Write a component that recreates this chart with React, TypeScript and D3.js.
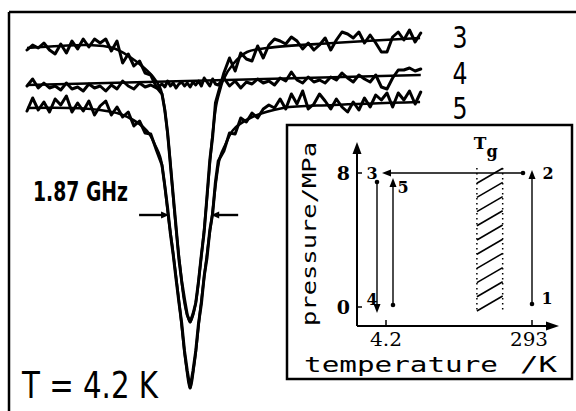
import React from "react";
import * as d3 from "d3";

// Frequency sampling grid (GHz detuning from line centre)
const freqGrid: number[] = [
  ...d3.range(-7.25, -1.25, 0.25),
  ...d3.range(-1.25, 1.25, 0.125),
  ...d3.range(1.25, 10.3, 0.25),
];

const trace3: number[] = [
  350, 355, 352, 357, 350, 346, 356, 347, 359, 351, 361, 353, 361, 357, 361, 349, 359, 337, 346, 334, 339, 327, 325, 313,
  306, 290, 267, 235, 204, 173, 141, 119, 101, 85, 78, 86, 97, 119, 145, 168, 204, 240, 263, 297,
  307, 327, 342, 329, 347, 341, 339, 354, 342, 355, 361, 359, 356, 363, 359, 351, 357, 350, 355, 362, 350, 360, 368, 366, 362, 368, 357, 365, 357, 348, 348, 363, 368, 360, 370, 358, 367,
];
const trace4: number[] = [
  314, 321, 312, 317, 312, 314, 310, 317, 311, 313, 309, 316, 312, 314, 309, 315, 311, 319, 314, 311, 317, 313, 315, 312,
  316, 313, 319, 314, 317, 312, 316, 318, 314, 317, 313, 318, 315, 319, 314, 322, 318, 314, 321, 316,
  315, 322, 314, 319, 312, 318, 316, 321, 317, 319, 315, 322, 319, 328, 320, 317, 323, 318, 320, 317, 323, 320, 327, 322, 318, 325, 321, 318, 325, 313, 311, 322, 330, 330, 332, 329, 331,
];
const trace5: number[] = [
  289, 302, 290, 298, 288, 301, 295, 304, 288, 297, 289, 299, 285, 294, 299, 285, 293, 283, 288, 274, 279, 267, 266, 250,
  235, 214, 192, 166, 145, 121, 98, 77, 49, 29, 12, 29, 49, 77, 96, 124, 142, 170, 186, 218,
  239, 249, 267, 266, 282, 278, 287, 282, 291, 295, 292, 301, 291, 306, 296, 309, 291, 296, 306, 299, 291, 301, 293, 288, 298, 290, 302, 293, 305, 300, 307, 293, 307, 300, 309, 296, 308,
];

// Fitted line shapes (frequency, value)
const fit3Freq = [-7.25, -5.78, -4.58, -3.42, -2.67, -2.09, -1.64, -1.33, -1.16, -1.02, -0.89, -0.76, -0.62, -0.44, -0.27, -0.13, 0, 0.13, 0.27, 0.44, 0.62, 0.76, 0.89, 1.02, 1.16, 1.33, 1.47, 1.91, 2.53, 3.42, 6.36, 10.22];
const fit3Val = [352, 354, 355, 352, 343, 333, 323, 312, 295, 270, 240, 205, 170, 132, 100, 85, 78, 85, 100, 132, 170, 205, 240, 270, 295, 310, 320, 336, 348, 352, 357, 362];
const fit4Freq = [-7.25, 10.25];
const fit4Val = [315, 325];
const fit5Freq = [-7.24, -5.33, -4, -3.11, -2.53, -2.09, -1.78, -1.56, -1.33, -1.16, -0.98, -0.8, -0.62, -0.44, -0.31, -0.18, 0, 0.18, 0.31, 0.44, 0.62, 0.8, 0.98, 1.16, 1.33, 1.56, 1.91, 2.67, 4.13, 6.36, 10.22];
const fit5Val = [292, 292, 290, 286, 280, 273, 265, 255, 243, 220, 185, 155, 122, 88, 60, 35, 12, 35, 60, 88, 122, 155, 185, 220, 243, 255, 270, 282, 292, 295, 298];

const traceLabels = ["3", "4", "5"];
const fwhmGHz = 1.87;
const fwhmLabel = "1.87 GHz";
const tempLabel = "T = 4.2 K";

// Inset: pressure / temperature cycle
const pressureTicks = [0, 8];
const tempTicks = [4.2, 293];
const tempTickLabels = ["4.2", "293"];
const tgRange = [184, 235];
const cycleT = [293, 293, 4.2, 4.2, 4.2];
const cycleP = [0, 8, 8, 0, 8];
const cycleLabels = ["1", "2", "3", "4", "5"];

const COND = "'DejaVu Sans Condensed', 'DejaVu Sans', sans-serif";
const SERIF = "'DejaVu Serif', serif";
const MONO = "'DejaVu Sans Mono', 'Liberation Mono', monospace";

function tri(tx: number, ty: number, dir: "l" | "r" | "u" | "d", len: number, hw: number) {
  let pts: [number, number][];
  if (dir === "r") pts = [[tx, ty], [tx - len, ty - hw], [tx - len, ty + hw]];
  else if (dir === "l") pts = [[tx, ty], [tx + len, ty - hw], [tx + len, ty + hw]];
  else if (dir === "u") pts = [[tx, ty], [tx - hw, ty + len], [tx + hw, ty + len]];
  else pts = [[tx, ty], [tx - hw, ty - len], [tx + hw, ty - len]];
  return pts.map((p) => p.join(",")).join(" ");
}

export default function App() {
  const W = 576, H = 411;
  const x = d3.scaleLinear().domain([-7.25, 10.25]).range([27, 420.75]);
  const y = d3.scaleLinear().domain([0, 370]).range([400, 30]);

  const traceLine = d3.line<number>().x((_, i) => x(freqGrid[i])).y((d) => y(d));
  const fitLine = d3
    .line<[number, number]>()
    .x((d) => x(d[0]))
    .y((d) => y(d[1]))
    .curve(d3.curveCatmullRom.alpha(0.5));

  const fits = [
    d3.zip(fit3Freq, fit3Val) as [number, number][],
    d3.zip(fit4Freq, fit4Val) as [number, number][],
    d3.zip(fit5Freq, fit5Val) as [number, number][],
  ];
  const traces = [trace3, trace4, trace5];
  const labelY = [48, 84, 119];

  // inset scales
  const xT = d3.scaleLinear().domain([4.2, 293]).range([386, 532]);
  const yP = d3.scaleLinear().domain([0, 8]).range([307, 173]);
  const ax0 = xT(4.2) - 29;
  const ay0 = yP(0) + 19;

  const arrY = y(185);
  const lTip = x(-fwhmGHz / 2);
  const rTip = x(fwhmGHz / 2);

  const hatchTop = yP(8) - 5;
  const hatchBot = yP(0) + 4;
  const tgL = xT(tgRange[0]);
  const tgR = xT(tgRange[1]);

  const p = cycleT.map((t, i) => [xT(t), yP(cycleP[i])]);

  return (
    <svg width={W} height={H} style={{ position: "fixed", left: 0, top: 0, background: "#fff" }}>
      <rect x={0} y={0} width={W} height={H} fill="#fff" />
      {/* outer frame */}
      <line x1={9} y1={12} x2={W} y2={12} stroke="#000" strokeWidth={2.5} />
      <line x1={9} y1={12} x2={9} y2={H} stroke="#000" strokeWidth={2.5} />

      {/* fits */}
      {fits.map((f, i) => (
        <path key={"f" + i} d={fitLine(f) || ""} fill="none" stroke="#000" strokeWidth={2.6} strokeLinejoin="round" />
      ))}
      {/* traces */}
      {traces.map((t, i) => (
        <path key={"t" + i} d={traceLine(t) || ""} fill="none" stroke="#000" strokeWidth={3} strokeLinejoin="round" strokeLinecap="round" />
      ))}

      {traceLabels.map((l, i) => (
        <text key={l} x={460} y={labelY[i]} fontFamily={COND} fontSize={30} textAnchor="middle" textLength={15} lengthAdjust="spacingAndGlyphs">
          {l}
        </text>
      ))}

      {/* FWHM arrows */}
      <line x1={lTip - 30} y1={arrY} x2={lTip - 6} y2={arrY} stroke="#000" strokeWidth={2.4} />
      <polygon points={tri(lTip, arrY, "r", 8, 3.5)} fill="#000" />
      <line x1={rTip + 27} y1={arrY} x2={rTip + 6} y2={arrY} stroke="#000" strokeWidth={2.4} />
      <polygon points={tri(rTip, arrY, "l", 8, 3.5)} fill="#000" />
      <text x={33} y={201} fontFamily={COND} fontWeight="bold" fontSize={27} textLength={95} lengthAdjust="spacingAndGlyphs">
        {fwhmLabel}
      </text>
      <text x={22} y={398} fontFamily={COND} fontSize={38} textLength={136} lengthAdjust="spacingAndGlyphs">
        {tempLabel}
      </text>

      {/* inset */}
      <rect x={287} y={125} width={285} height={254} fill="#fff" stroke="#000" strokeWidth={2.5} />
      <line x1={ax0} y1={ay0} x2={ax0} y2={152} stroke="#000" strokeWidth={2} />
      <polygon points={tri(ax0, 142, "u", 12, 4.5)} fill="#000" />
      <line x1={ax0} y1={ay0} x2={548} y2={ay0} stroke="#000" strokeWidth={2} />
      <polygon points={tri(559, ay0, "r", 13, 4.5)} fill="#000" />
      {pressureTicks.map((t) => (
        <g key={"pt" + t}>
          <line x1={ax0} x2={ax0 + 5} y1={yP(t)} y2={yP(t)} stroke="#000" strokeWidth={1.5} />
          <text x={ax0 - 7} y={yP(t) + 7} fontFamily={SERIF} fontWeight="bold" fontSize={19} textAnchor="end">
            {t}
          </text>
        </g>
      ))}
      {tempTicks.map((t, i) => (
        <g key={"tt" + t}>
          <line x1={xT(t)} x2={xT(t)} y1={ay0} y2={ay0 - 6} stroke="#000" strokeWidth={1.5} />
          <text x={xT(t) - (i === 1 ? 3 : 0)} y={ay0 + 20} fontFamily={SERIF} fontSize={19} textAnchor="middle" textLength={i === 1 ? 38 : 32} lengthAdjust="spacingAndGlyphs">
            {tempTickLabels[i]}
          </text>
        </g>
      ))}
      <text
        transform={`translate(316, 234) rotate(-90)`}
        x={0}
        y={0}
        fontFamily={MONO}
        fontSize={20}
        textAnchor="middle"
        textLength={184}
        lengthAdjust="spacingAndGlyphs"
      >
        pressure/MPa
      </text>
      <text x={304} y={372} fontFamily={MONO} fontSize={21} textLength={194} lengthAdjust="spacingAndGlyphs">
        temperature
      </text>
      <text x={520} y={372} fontFamily={MONO} fontSize={21} textLength={37} lengthAdjust="spacingAndGlyphs">
        /K
      </text>

      {/* Tg hatched region */}
      <line x1={tgL} x2={tgL} y1={hatchTop} y2={hatchBot} stroke="#000" strokeWidth={1.5} strokeDasharray="1.5,3.5" />
      <line x1={tgR} x2={tgR} y1={hatchTop} y2={hatchBot} stroke="#000" strokeWidth={1.5} strokeDasharray="1.5,3.5" />
      {d3.range(10).map((k) => {
        const yl = hatchBot - k * 14.2;
        return <line key={"h" + k} x1={tgL} y1={yl} x2={tgR} y2={yl - 15} stroke="#000" strokeWidth={1.6} />;
      })}
      <text x={480} y={149} fontFamily={SERIF} fontWeight="bold" fontSize={17} textAnchor="middle">T</text>
      <text x={492} y={157} fontFamily={SERIF} fontWeight="bold" fontSize={16} textAnchor="middle">g</text>

      {/* cycle 1 -> 2 */}
      <line x1={p[0][0]} y1={p[0][1] - 3} x2={p[1][0]} y2={p[1][1] + 5} stroke="#000" strokeWidth={1.4} />
      <polygon points={tri(p[1][0], p[1][1] - 3, "u", 9, 3.5)} fill="#000" />
      <circle cx={p[0][0]} cy={p[0][1] - 3} r={2.3} fill="#000" />
      {/* 2 -> 3 */}
      <line x1={p[1][0] - 9} y1={p[1][1]} x2={p[2][0] + 4} y2={p[2][1]} stroke="#000" strokeWidth={1.4} />
      <polygon points={tri(p[2][0] - 4, p[2][1], "l", 9, 3.5)} fill="#000" />
      <circle cx={p[1][0] - 9} cy={p[1][1]} r={2.3} fill="#000" />
      {/* 3 -> 4 */}
      <line x1={p[2][0] - 9} y1={p[2][1] + 9} x2={p[3][0] - 9} y2={p[3][1] - 2} stroke="#000" strokeWidth={1.4} />
      <polygon points={tri(p[3][0] - 9, p[3][1] + 6, "d", 9, 3.5)} fill="#000" />
      <circle cx={p[2][0] - 9} cy={p[2][1] + 9} r={2.3} fill="#000" />
      {/* 4 -> 5 */}
      <line x1={p[3][0] + 7} y1={p[3][1] - 2} x2={p[4][0] + 7} y2={p[4][1] + 12} stroke="#000" strokeWidth={1.4} />
      <polygon points={tri(p[4][0] + 7, p[4][1] + 5, "u", 9, 3.5)} fill="#000" />
      <circle cx={p[3][0] + 7} cy={p[3][1] - 2} r={2.3} fill="#000" />

      {cycleLabels.map((l, i) => {
        const off = [[15, -3], [16, 6], [-14, 6], [-14, -2], [17, 20]][i];
        return (
          <text key={"c" + l} x={p[i][0] + off[0]} y={p[i][1] + off[1]} fontFamily={SERIF} fontWeight="bold" fontSize={16} textAnchor="middle">
            {l}
          </text>
        );
      })}
    </svg>
  );
}
